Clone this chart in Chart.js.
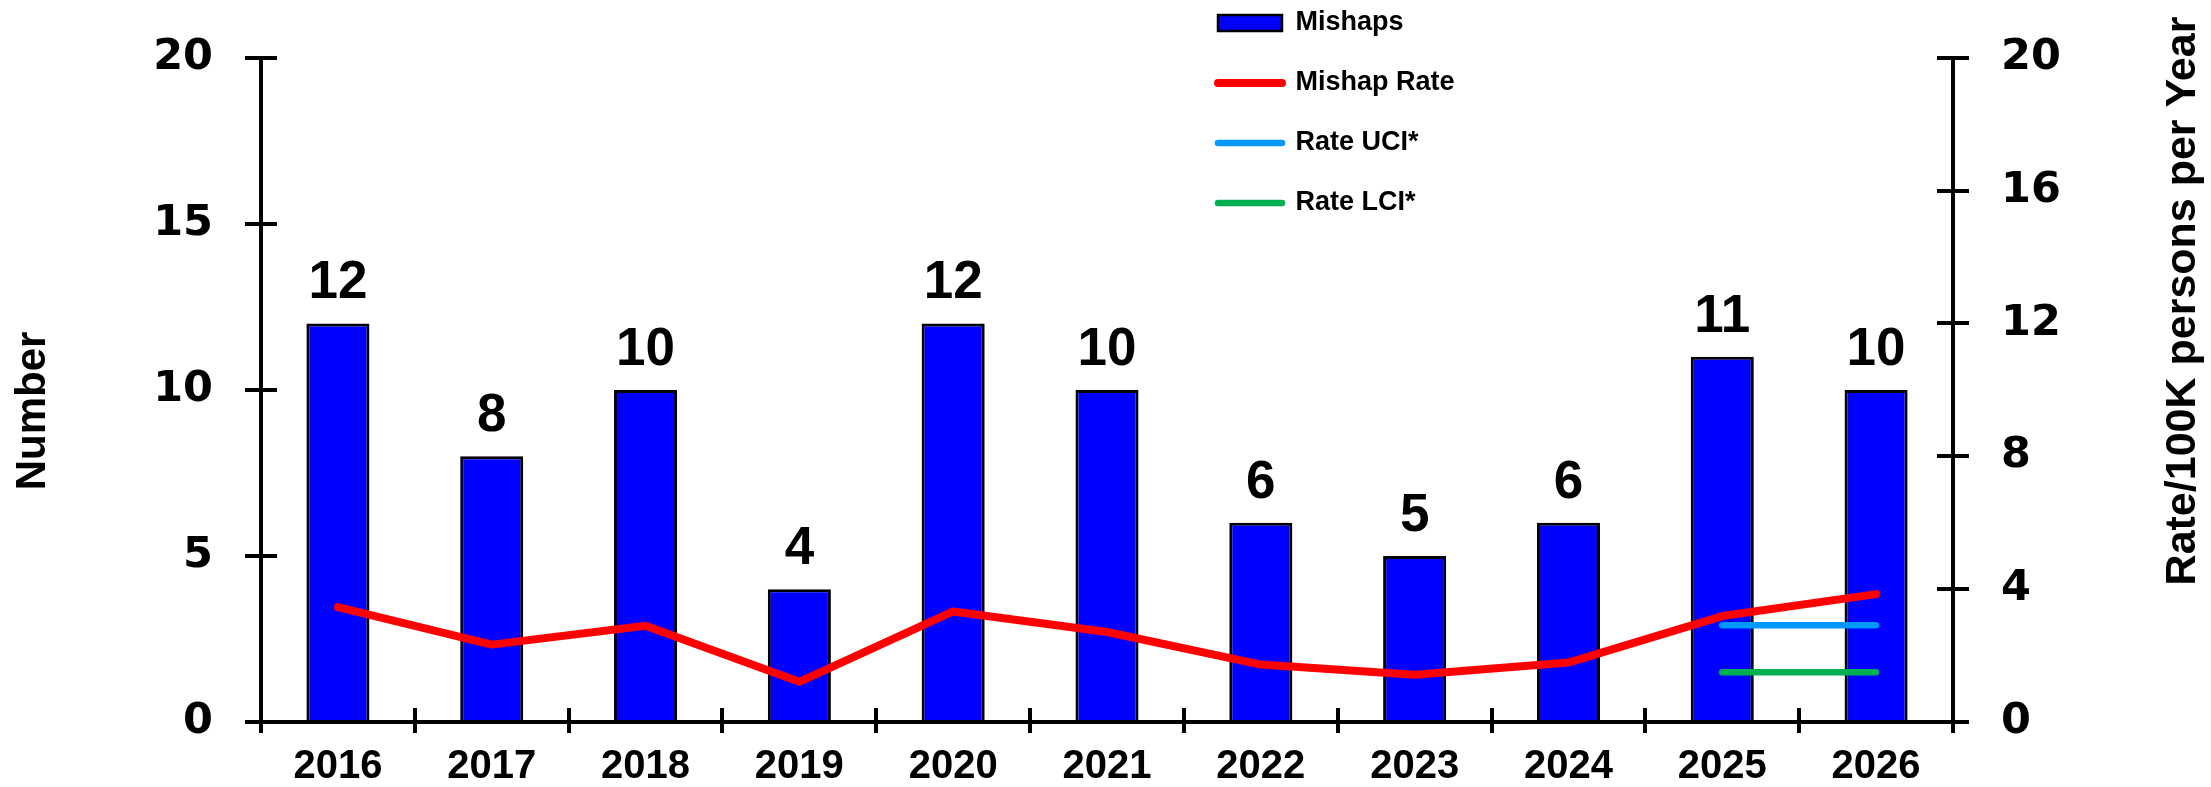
<!DOCTYPE html>
<html><head><meta charset="utf-8">
<script src="https://cdn.jsdelivr.net/npm/chart.js@4.4.1/dist/chart.umd.min.js"></script>
<style>html,body{margin:0;padding:0;background:#fff;}canvas{display:block;}</style>
</head><body>
<canvas id="c" width="2211" height="787"></canvas>
<script>
const categories = ['2016','2017','2018','2019','2020','2021','2022','2023','2024','2025','2026'];
const mishaps = [12, 8, 10, 4, 12, 10, 6, 5, 6, 11, 10];
const mishapRate = [3.46, 2.33, 2.90, 1.21, 3.33, 2.71, 1.73, 1.42, 1.79, 3.19, 3.85];
const rateUCI = [null, null, null, null, null, null, null, null, null, 2.91, 2.91];
const rateLCI = [null, null, null, null, null, null, null, null, null, 1.50, 1.50];
const leftTicks = [0, 5, 10, 15, 20];
const rightTicks = [0, 4, 8, 12, 16, 20];
const leftTitle = 'Number';
const rightTitle = 'Rate/100K persons per Year';

const FONT = '"Liberation Sans", Arial, sans-serif';
const TICKFONT = '"DejaVu Sans", "Liberation Sans", sans-serif';

const innerTicks = {
  id: 'innerTicks',
  afterDraw(chart) {
    const ctx = chart.ctx, {x, y, y1} = chart.scales;
    ctx.save();
    ctx.strokeStyle = '#000'; ctx.lineWidth = 4; ctx.lineCap = 'butt';
    ctx.beginPath();
    const L = Math.round(x.left), R = Math.round(x.right), B = Math.round(y.bottom);
    y.ticks.forEach((t, i) => { const p = Math.round(y.getPixelForTick(i)); ctx.moveTo(L, p); ctx.lineTo(L + 16, p); });
    y1.ticks.forEach((t, i) => { const p = Math.round(y1.getPixelForTick(i)); ctx.moveTo(R, p); ctx.lineTo(R - 16, p); });
    for (let i = 1; i < categories.length; i++) {
      const p = Math.round(x.getPixelForValue(i - 0.5));
      ctx.moveTo(p, B); ctx.lineTo(p, B - 14);
    }
    ctx.stroke();
    ctx.restore();
  }
};

const barLabels = {
  id: 'barLabels',
  afterDatasetsDraw(chart) {
    const ctx = chart.ctx, meta = chart.getDatasetMeta(0);
    ctx.save();
    ctx.font = 'bold 53px ' + FONT;
    ctx.fillStyle = '#000'; ctx.textAlign = 'center'; ctx.textBaseline = 'alphabetic';
    meta.data.forEach((el, i) => ctx.fillText(String(mishaps[i]), el.x, el.y - 25));
    ctx.restore();
  }
};

const axisTitles = {
  id: 'axisTitles',
  afterDraw(chart) {
    const ctx = chart.ctx;
    const draw = (t, px, py, size) => {
      ctx.save();
      ctx.translate(px, py); ctx.rotate(-Math.PI / 2);
      ctx.font = 'bold ' + size + 'px ' + FONT; ctx.fillStyle = '#000';
      ctx.textAlign = 'center'; ctx.textBaseline = 'alphabetic';
      ctx.fillText(t, 0, 0);
      ctx.restore();
    };
    draw(leftTitle, 45, 411, 42);
    draw(rightTitle, 2195, 301, 43);
  }
};

const legendPlace = {
  id: 'legendPlace',
  afterLayout(chart) {
    const lg = chart.legend;
    if (!lg) return;
    lg.left = 1185; lg.right = 1700; lg.width = 515;
    lg.top = -23.5; lg.bottom = 300; lg.height = 323.5;
  }
};

new Chart(document.getElementById('c'), {
  type: 'bar',
  data: {
    labels: categories,
    datasets: [
      { type: 'bar', label: 'Mishaps', data: mishaps, yAxisID: 'y', order: 2,
        backgroundColor: '#0000FF', borderColor: '#000', borderWidth: 3,
        barPercentage: 0.41, categoryPercentage: 1.0 },
      { type: 'line', label: 'Mishap Rate', data: mishapRate, yAxisID: 'y1', order: 1,
        borderColor: '#FF0000', borderWidth: 8, borderCapStyle: 'round', borderJoinStyle: 'round',
        pointRadius: 0, pointHoverRadius: 0, tension: 0, fill: false },
      { type: 'line', label: 'Rate UCI*', data: rateUCI, yAxisID: 'y1', order: 1,
        borderColor: '#0099FF', borderWidth: 6.5, borderCapStyle: 'round',
        pointRadius: 0, pointHoverRadius: 0, tension: 0, fill: false, spanGaps: false },
      { type: 'line', label: 'Rate LCI*', data: rateLCI, yAxisID: 'y1', order: 1,
        borderColor: '#00B050', borderWidth: 6.5, borderCapStyle: 'round',
        pointRadius: 0, pointHoverRadius: 0, tension: 0, fill: false, spanGaps: false }
    ]
  },
  options: {
    responsive: false,
    animation: false,
    devicePixelRatio: 1,
    events: [],
    layout: { padding: { top: 45, left: 0, right: 0, bottom: 0 } },
    plugins: {
      tooltip: { enabled: false },
      legend: {
        position: 'chartArea',
        align: 'start',
        labels: {
          usePointStyle: true,
          pointStyleWidth: 64,
          boxHeight: 16,
          padding: 33,
          color: '#000',
          font: { family: FONT, size: 27, weight: 'bold' },
          sort: (a, b) => a.datasetIndex - b.datasetIndex,
          generateLabels(chart) {
            const items = Chart.defaults.plugins.legend.labels.generateLabels(chart);
            items.forEach(it => {
              const ds = chart.data.datasets[it.datasetIndex];
              if (ds.type === 'line') {
                it.pointStyle = 'line'; it.lineCap = 'round';
                it.lineWidth = ds.borderWidth; it.strokeStyle = ds.borderColor; it.fillStyle = ds.borderColor;
              } else {
                it.pointStyle = 'rect'; it.lineWidth = 2.5; it.strokeStyle = '#000'; it.fillStyle = ds.backgroundColor;
              }
            });
            return items;
          }
        }
      }
    },
    scales: {
      x: {
        type: 'category',
        offset: true,
        grid: { display: true, drawOnChartArea: false, offset: true, tickLength: 11, lineWidth: 4, color: '#000' },
        border: { display: true, width: 4, color: '#000' },
        ticks: { color: '#000', font: { family: FONT, size: 40, weight: 'bold' }, padding: 10, maxRotation: 0, autoSkip: false },
        afterFit(s) { s.height = 65; }
      },
      y: {
        position: 'left',
        min: leftTicks[0], max: leftTicks[leftTicks.length - 1],
        grid: { display: true, drawOnChartArea: false, tickLength: 16, lineWidth: 4, color: '#000' },
        border: { display: true, width: 4, color: '#000' },
        ticks: { stepSize: leftTicks[1] - leftTicks[0], color: '#000', padding: 32,
                 font: { family: TICKFONT, size: 43, weight: 'bold' } },
        afterFit(s) { s.width = 261; }
      },
      y1: {
        position: 'right',
        min: rightTicks[0], max: rightTicks[rightTicks.length - 1],
        grid: { display: true, drawOnChartArea: false, tickLength: 16, lineWidth: 4, color: '#000' },
        border: { display: true, width: 4, color: '#000' },
        ticks: { stepSize: rightTicks[1] - rightTicks[0], color: '#000', padding: 32,
                 font: { family: TICKFONT, size: 43, weight: 'bold' } },
        afterFit(s) { s.width = 258; }
      }
    }
  },
  plugins: [legendPlace, innerTicks, barLabels, axisTitles]
});
</script>
</body></html>
